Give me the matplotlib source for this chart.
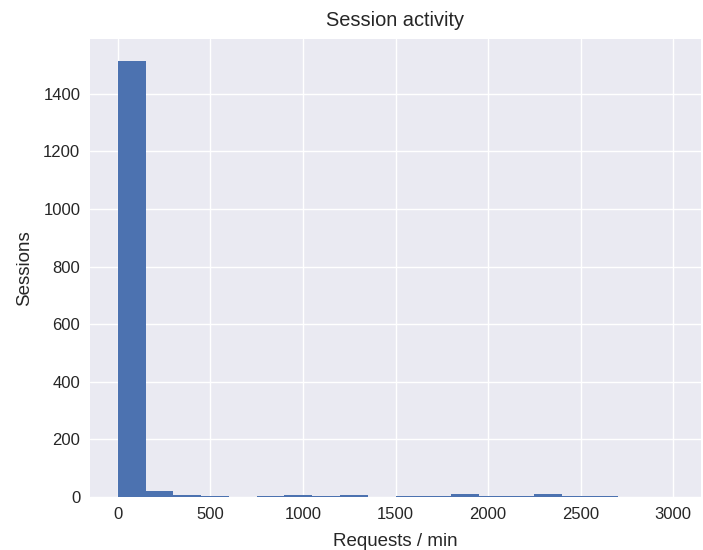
import matplotlib
matplotlib.use("Agg")
import matplotlib.pyplot as plt
import numpy as np

plt.style.use("seaborn-v0_8")
plt.rcParams["font.family"] = ["Liberation Sans", "DejaVu Sans"]
plt.rcParams["xtick.labelsize"] = 12
plt.rcParams["ytick.labelsize"] = 12
plt.rcParams["axes.labelsize"] = 13.5
plt.rcParams["axes.titlesize"] = 14.4

# Histogram of requests per minute, 150-wide bins from 0 to 3000
bin_edges = list(range(0, 3001, 150))
session_counts = [1514, 20, 8, 3, 0, 3, 8, 3, 8, 0,
                  3, 3, 11, 3, 3, 11, 3, 3, 0, 0]

fig = plt.figure(figsize=(7.03, 5.5), dpi=100)
ax = fig.add_axes([90 / 703, 1 - 497 / 550, 611 / 703, 458 / 550])

ax.hist(bin_edges[:-1], bins=bin_edges, weights=session_counts, color="#4C72B0")
ax.set_title("Session activity", pad=9)
ax.set_xlabel("Requests / min", labelpad=8)
ax.set_ylabel("Sessions", labelpad=7)

fig.savefig("out.png", dpi=100)
